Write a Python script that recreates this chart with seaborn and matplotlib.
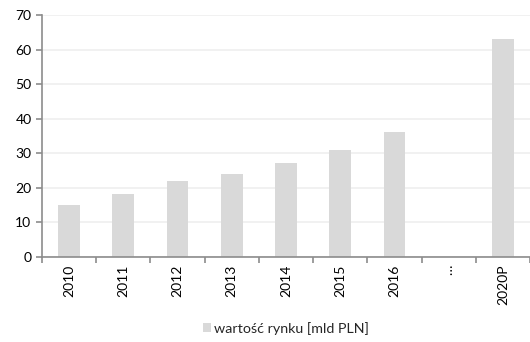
import matplotlib
matplotlib.use("Agg")
import matplotlib.pyplot as plt
import seaborn as sns
import pandas as pd
import numpy as np
from matplotlib.patches import Patch

categories = ["2010", "2011", "2012", "2013", "2014", "2015", "2016", "…", "2020P"]
values = [15, 18, 22, 24, 27, 31, 36, np.nan, 63]
series_label = "wartość rynku [mld PLN]"

sns.set_theme(style="white")
plt.rcParams["font.family"] = ["Lato", "DejaVu Sans"]

df = pd.DataFrame({"rok": categories, "wartosc": values})

fig = plt.figure(figsize=(5.30, 3.42), dpi=100)
ax = fig.add_axes([0.079, 0.25, 0.921, 0.706])

bar_color = "#d9d9d9"
sns.barplot(data=df, x="rok", y="wartosc", color=bar_color, width=0.4,
            saturation=1, ax=ax, zorder=2)
for p in ax.patches:
    p.set_edgecolor("none")
    p.set_linewidth(0)

ax.set_ylim(0, 70)
ax.set_yticks(range(0, 71, 10))
ax.set_xlim(-0.5, len(categories) - 0.5)
ax.yaxis.grid(True, color="#efefef", linewidth=1.2, zorder=0)
ax.set_axisbelow(True)

for side in ["top", "right"]:
    ax.spines[side].set_visible(False)
for side in ["left", "bottom"]:
    ax.spines[side].set_color("#8c8c8c")
    ax.spines[side].set_linewidth(1.2)
    ax.spines[side].set_zorder(5)

# ticks on the boundaries between categories
ax.set_xticks(np.arange(len(categories)), categories, rotation=90)
ax.set_xticks(np.arange(-0.5, len(categories)), minor=True)
ax.tick_params(axis="x", which="major", length=0, pad=6, labelsize=10, colors="black")
ax.tick_params(axis="x", which="minor", bottom=True, length=4, width=1.2, color="#8c8c8c")
ax.tick_params(axis="y", left=True, length=4, width=1.2, color="#8c8c8c",
               labelsize=10, labelcolor="black")
ax.set_xlabel("")
ax.set_ylabel("")

handles = [Patch(facecolor=bar_color, edgecolor="none", label=series_label)]
fig.legend(handles=handles, loc="center", bbox_to_anchor=(0.539, 0.04),
           frameon=False, fontsize=10.3, handlelength=0.6, handleheight=0.6,
           handletextpad=0.2)

fig.savefig("out.png", dpi=100)
